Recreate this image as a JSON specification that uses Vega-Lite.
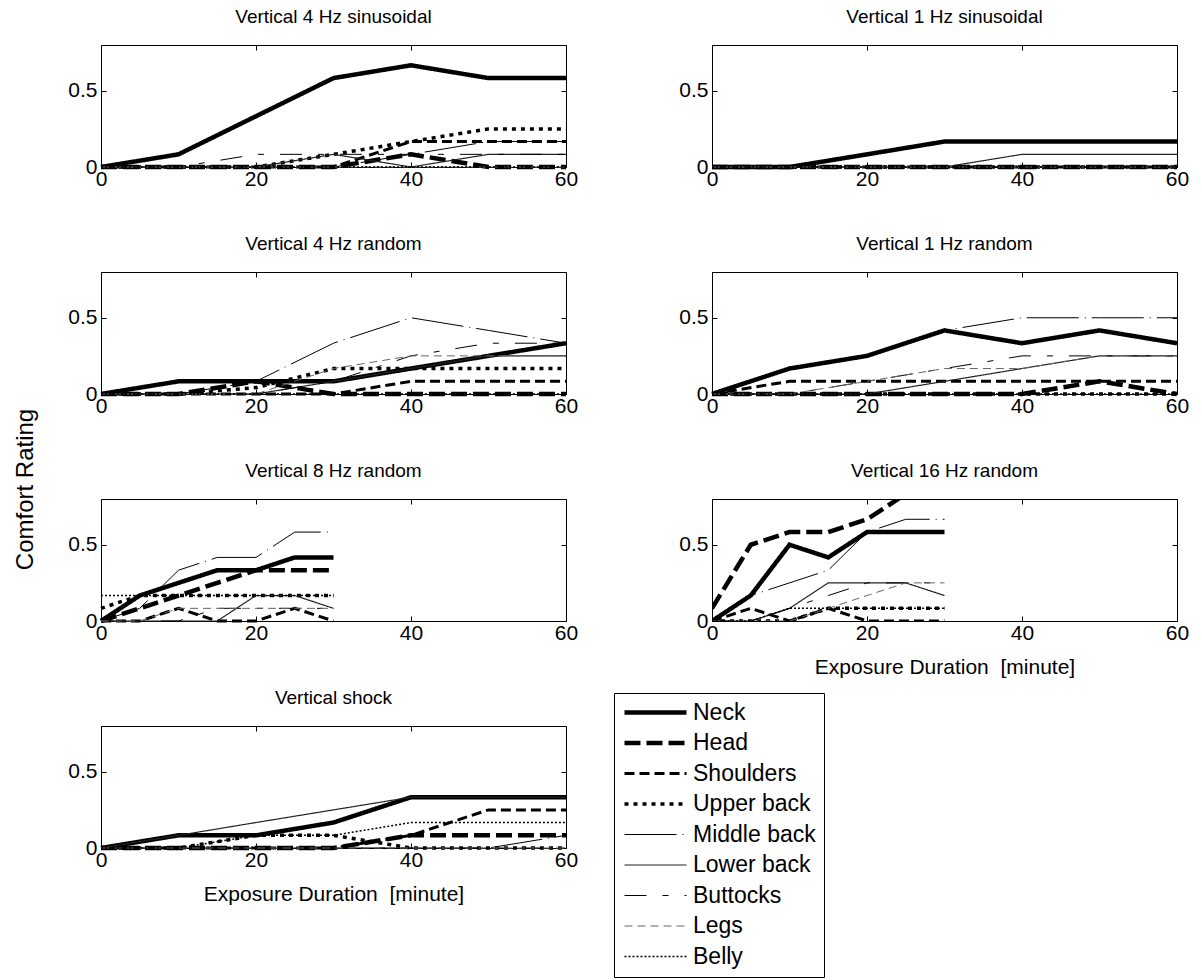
{
"$schema": "https://vega.github.io/schema/vega-lite/v6.json",
"padding": {"left": 12, "top": 7, "right": 5, "bottom": 5},
"bounds": "flush",
"columns": 2,
"spacing": {"row": 105, "column": 146},
"config": {
 "font": "Liberation Sans",
 "view": {"stroke": "black", "strokeWidth": 1},
 "axis": {"domain": false, "grid": false, "ticks": true, "tickSize": -5, "tickColor": "black", "tickWidth": 1, "labelFont": "Liberation Sans", "labelFontSize": 21, "labelColor": "black", "titleFont": "Liberation Sans", "titleFontSize": 21, "titleFontWeight": "normal", "titleColor": "black", "labelFlush": false, "labelOverlap": false},
 "axisX": {"labelPadding": 6},
 "axisY": {"labelPadding": 9},
 "title": {"font": "Liberation Sans", "fontSize": 19, "fontWeight": "normal", "color": "black", "offset": 18},
 "legend": {"labelFont": "Liberation Sans", "labelFontSize": 23, "labelColor": "black"}
},
"resolve": {"scale": {"strokeDash": "independent", "strokeWidth": "independent", "color": "independent"}, "legend": {"strokeDash": "independent", "strokeWidth": "independent", "color": "independent"}},
"data": {"values": [
{"panel":1,"part":"Neck","min":0,"rating":0},{"panel":1,"part":"Neck","min":10,"rating":0.083},{"panel":1,"part":"Neck","min":20,"rating":0.333},{"panel":1,"part":"Neck","min":30,"rating":0.583},{"panel":1,"part":"Neck","min":40,"rating":0.667},{"panel":1,"part":"Neck","min":50,"rating":0.583},{"panel":1,"part":"Neck","min":60,"rating":0.583},
{"panel":1,"part":"Head","min":0,"rating":0},{"panel":1,"part":"Head","min":10,"rating":0},{"panel":1,"part":"Head","min":20,"rating":0},{"panel":1,"part":"Head","min":30,"rating":0},{"panel":1,"part":"Head","min":40,"rating":0.083},{"panel":1,"part":"Head","min":50,"rating":0},{"panel":1,"part":"Head","min":60,"rating":0},
{"panel":1,"part":"Shoulders","min":0,"rating":0},{"panel":1,"part":"Shoulders","min":10,"rating":0},{"panel":1,"part":"Shoulders","min":20,"rating":0},{"panel":1,"part":"Shoulders","min":30,"rating":0},{"panel":1,"part":"Shoulders","min":40,"rating":0.167},{"panel":1,"part":"Shoulders","min":50,"rating":0.167},{"panel":1,"part":"Shoulders","min":60,"rating":0.167},
{"panel":1,"part":"Upper back","min":0,"rating":0},{"panel":1,"part":"Upper back","min":10,"rating":0},{"panel":1,"part":"Upper back","min":20,"rating":0},{"panel":1,"part":"Upper back","min":30,"rating":0.083},{"panel":1,"part":"Upper back","min":40,"rating":0.167},{"panel":1,"part":"Upper back","min":50,"rating":0.25},{"panel":1,"part":"Upper back","min":60,"rating":0.25},
{"panel":1,"part":"Middle back","min":0,"rating":0},{"panel":1,"part":"Middle back","min":10,"rating":0},{"panel":1,"part":"Middle back","min":20,"rating":0},{"panel":1,"part":"Middle back","min":30,"rating":0},{"panel":1,"part":"Middle back","min":40,"rating":0.083},{"panel":1,"part":"Middle back","min":50,"rating":0.167},{"panel":1,"part":"Middle back","min":60,"rating":0.167},
{"panel":1,"part":"Lower back","min":0,"rating":0},{"panel":1,"part":"Lower back","min":10,"rating":0},{"panel":1,"part":"Lower back","min":20,"rating":0},{"panel":1,"part":"Lower back","min":30,"rating":0.083},{"panel":1,"part":"Lower back","min":40,"rating":0},{"panel":1,"part":"Lower back","min":50,"rating":0.083},{"panel":1,"part":"Lower back","min":60,"rating":0.083},
{"panel":1,"part":"Buttocks","min":0,"rating":0},{"panel":1,"part":"Buttocks","min":10,"rating":0},{"panel":1,"part":"Buttocks","min":20,"rating":0.083},{"panel":1,"part":"Buttocks","min":30,"rating":0.083},{"panel":1,"part":"Buttocks","min":40,"rating":0.083},{"panel":1,"part":"Buttocks","min":50,"rating":0.083},{"panel":1,"part":"Buttocks","min":60,"rating":0.083},
{"panel":1,"part":"Legs","min":0,"rating":0},{"panel":1,"part":"Legs","min":10,"rating":0},{"panel":1,"part":"Legs","min":20,"rating":0},{"panel":1,"part":"Legs","min":30,"rating":0},{"panel":1,"part":"Legs","min":40,"rating":0},{"panel":1,"part":"Legs","min":50,"rating":0},{"panel":1,"part":"Legs","min":60,"rating":0},
{"panel":1,"part":"Belly","min":0,"rating":0},{"panel":1,"part":"Belly","min":10,"rating":0},{"panel":1,"part":"Belly","min":20,"rating":0},{"panel":1,"part":"Belly","min":30,"rating":0},{"panel":1,"part":"Belly","min":40,"rating":0},{"panel":1,"part":"Belly","min":50,"rating":0},{"panel":1,"part":"Belly","min":60,"rating":0},

{"panel":2,"part":"Neck","min":0,"rating":0},{"panel":2,"part":"Neck","min":10,"rating":0},{"panel":2,"part":"Neck","min":20,"rating":0.083},{"panel":2,"part":"Neck","min":30,"rating":0.167},{"panel":2,"part":"Neck","min":40,"rating":0.167},{"panel":2,"part":"Neck","min":50,"rating":0.167},{"panel":2,"part":"Neck","min":60,"rating":0.167},
{"panel":2,"part":"Head","min":0,"rating":0},{"panel":2,"part":"Head","min":10,"rating":0},{"panel":2,"part":"Head","min":20,"rating":0},{"panel":2,"part":"Head","min":30,"rating":0},{"panel":2,"part":"Head","min":40,"rating":0},{"panel":2,"part":"Head","min":50,"rating":0},{"panel":2,"part":"Head","min":60,"rating":0},
{"panel":2,"part":"Shoulders","min":0,"rating":0},{"panel":2,"part":"Shoulders","min":10,"rating":0},{"panel":2,"part":"Shoulders","min":20,"rating":0},{"panel":2,"part":"Shoulders","min":30,"rating":0},{"panel":2,"part":"Shoulders","min":40,"rating":0},{"panel":2,"part":"Shoulders","min":50,"rating":0},{"panel":2,"part":"Shoulders","min":60,"rating":0},
{"panel":2,"part":"Upper back","min":0,"rating":0},{"panel":2,"part":"Upper back","min":10,"rating":0},{"panel":2,"part":"Upper back","min":20,"rating":0},{"panel":2,"part":"Upper back","min":30,"rating":0},{"panel":2,"part":"Upper back","min":40,"rating":0},{"panel":2,"part":"Upper back","min":50,"rating":0},{"panel":2,"part":"Upper back","min":60,"rating":0},
{"panel":2,"part":"Middle back","min":0,"rating":0},{"panel":2,"part":"Middle back","min":10,"rating":0},{"panel":2,"part":"Middle back","min":20,"rating":0},{"panel":2,"part":"Middle back","min":30,"rating":0},{"panel":2,"part":"Middle back","min":40,"rating":0},{"panel":2,"part":"Middle back","min":50,"rating":0},{"panel":2,"part":"Middle back","min":60,"rating":0},
{"panel":2,"part":"Lower back","min":0,"rating":0},{"panel":2,"part":"Lower back","min":10,"rating":0},{"panel":2,"part":"Lower back","min":20,"rating":0},{"panel":2,"part":"Lower back","min":30,"rating":0},{"panel":2,"part":"Lower back","min":40,"rating":0.083},{"panel":2,"part":"Lower back","min":50,"rating":0.083},{"panel":2,"part":"Lower back","min":60,"rating":0.083},
{"panel":2,"part":"Buttocks","min":0,"rating":0},{"panel":2,"part":"Buttocks","min":10,"rating":0},{"panel":2,"part":"Buttocks","min":20,"rating":0},{"panel":2,"part":"Buttocks","min":30,"rating":0},{"panel":2,"part":"Buttocks","min":40,"rating":0},{"panel":2,"part":"Buttocks","min":50,"rating":0},{"panel":2,"part":"Buttocks","min":60,"rating":0},
{"panel":2,"part":"Legs","min":0,"rating":0},{"panel":2,"part":"Legs","min":10,"rating":0},{"panel":2,"part":"Legs","min":20,"rating":0},{"panel":2,"part":"Legs","min":30,"rating":0},{"panel":2,"part":"Legs","min":40,"rating":0},{"panel":2,"part":"Legs","min":50,"rating":0},{"panel":2,"part":"Legs","min":60,"rating":0},
{"panel":2,"part":"Belly","min":0,"rating":0},{"panel":2,"part":"Belly","min":10,"rating":0},{"panel":2,"part":"Belly","min":20,"rating":0},{"panel":2,"part":"Belly","min":30,"rating":0},{"panel":2,"part":"Belly","min":40,"rating":0},{"panel":2,"part":"Belly","min":50,"rating":0},{"panel":2,"part":"Belly","min":60,"rating":0},

{"panel":3,"part":"Neck","min":0,"rating":0},{"panel":3,"part":"Neck","min":10,"rating":0.083},{"panel":3,"part":"Neck","min":20,"rating":0.083},{"panel":3,"part":"Neck","min":30,"rating":0.083},{"panel":3,"part":"Neck","min":40,"rating":0.167},{"panel":3,"part":"Neck","min":50,"rating":0.25},{"panel":3,"part":"Neck","min":60,"rating":0.333},
{"panel":3,"part":"Head","min":0,"rating":0},{"panel":3,"part":"Head","min":10,"rating":0},{"panel":3,"part":"Head","min":20,"rating":0.083},{"panel":3,"part":"Head","min":30,"rating":0},{"panel":3,"part":"Head","min":40,"rating":0},{"panel":3,"part":"Head","min":50,"rating":0},{"panel":3,"part":"Head","min":60,"rating":0},
{"panel":3,"part":"Shoulders","min":0,"rating":0},{"panel":3,"part":"Shoulders","min":10,"rating":0},{"panel":3,"part":"Shoulders","min":20,"rating":0},{"panel":3,"part":"Shoulders","min":30,"rating":0},{"panel":3,"part":"Shoulders","min":40,"rating":0.083},{"panel":3,"part":"Shoulders","min":50,"rating":0.083},{"panel":3,"part":"Shoulders","min":60,"rating":0.083},
{"panel":3,"part":"Upper back","min":0,"rating":0},{"panel":3,"part":"Upper back","min":10,"rating":0},{"panel":3,"part":"Upper back","min":20,"rating":0.042},{"panel":3,"part":"Upper back","min":30,"rating":0.167},{"panel":3,"part":"Upper back","min":40,"rating":0.167},{"panel":3,"part":"Upper back","min":50,"rating":0.167},{"panel":3,"part":"Upper back","min":60,"rating":0.167},
{"panel":3,"part":"Middle back","min":0,"rating":0},{"panel":3,"part":"Middle back","min":10,"rating":0},{"panel":3,"part":"Middle back","min":20,"rating":0.083},{"panel":3,"part":"Middle back","min":30,"rating":0.333},{"panel":3,"part":"Middle back","min":40,"rating":0.5},{"panel":3,"part":"Middle back","min":50,"rating":0.417},{"panel":3,"part":"Middle back","min":60,"rating":0.333},
{"panel":3,"part":"Lower back","min":0,"rating":0},{"panel":3,"part":"Lower back","min":10,"rating":0},{"panel":3,"part":"Lower back","min":20,"rating":0},{"panel":3,"part":"Lower back","min":30,"rating":0.083},{"panel":3,"part":"Lower back","min":40,"rating":0.167},{"panel":3,"part":"Lower back","min":50,"rating":0.25},{"panel":3,"part":"Lower back","min":60,"rating":0.25},
{"panel":3,"part":"Buttocks","min":0,"rating":0},{"panel":3,"part":"Buttocks","min":10,"rating":0},{"panel":3,"part":"Buttocks","min":20,"rating":0},{"panel":3,"part":"Buttocks","min":30,"rating":0.083},{"panel":3,"part":"Buttocks","min":40,"rating":0.25},{"panel":3,"part":"Buttocks","min":50,"rating":0.333},{"panel":3,"part":"Buttocks","min":60,"rating":0.333},
{"panel":3,"part":"Legs","min":0,"rating":0},{"panel":3,"part":"Legs","min":10,"rating":0},{"panel":3,"part":"Legs","min":20,"rating":0},{"panel":3,"part":"Legs","min":30,"rating":0.167},{"panel":3,"part":"Legs","min":40,"rating":0.25},{"panel":3,"part":"Legs","min":50,"rating":0.25},{"panel":3,"part":"Legs","min":60,"rating":0.25},
{"panel":3,"part":"Belly","min":0,"rating":0},{"panel":3,"part":"Belly","min":10,"rating":0},{"panel":3,"part":"Belly","min":20,"rating":0},{"panel":3,"part":"Belly","min":30,"rating":0},{"panel":3,"part":"Belly","min":40,"rating":0},{"panel":3,"part":"Belly","min":50,"rating":0},{"panel":3,"part":"Belly","min":60,"rating":0},

{"panel":4,"part":"Neck","min":0,"rating":0},{"panel":4,"part":"Neck","min":10,"rating":0.167},{"panel":4,"part":"Neck","min":20,"rating":0.25},{"panel":4,"part":"Neck","min":30,"rating":0.417},{"panel":4,"part":"Neck","min":40,"rating":0.333},{"panel":4,"part":"Neck","min":50,"rating":0.417},{"panel":4,"part":"Neck","min":60,"rating":0.333},
{"panel":4,"part":"Head","min":0,"rating":0},{"panel":4,"part":"Head","min":10,"rating":0},{"panel":4,"part":"Head","min":20,"rating":0},{"panel":4,"part":"Head","min":30,"rating":0},{"panel":4,"part":"Head","min":40,"rating":0},{"panel":4,"part":"Head","min":50,"rating":0.083},{"panel":4,"part":"Head","min":60,"rating":0},
{"panel":4,"part":"Shoulders","min":0,"rating":0},{"panel":4,"part":"Shoulders","min":10,"rating":0.083},{"panel":4,"part":"Shoulders","min":20,"rating":0.083},{"panel":4,"part":"Shoulders","min":30,"rating":0.083},{"panel":4,"part":"Shoulders","min":40,"rating":0.083},{"panel":4,"part":"Shoulders","min":50,"rating":0.083},{"panel":4,"part":"Shoulders","min":60,"rating":0.083},
{"panel":4,"part":"Upper back","min":0,"rating":0},{"panel":4,"part":"Upper back","min":10,"rating":0},{"panel":4,"part":"Upper back","min":20,"rating":0},{"panel":4,"part":"Upper back","min":30,"rating":0},{"panel":4,"part":"Upper back","min":40,"rating":0},{"panel":4,"part":"Upper back","min":50,"rating":0},{"panel":4,"part":"Upper back","min":60,"rating":0},
{"panel":4,"part":"Middle back","min":0,"rating":0},{"panel":4,"part":"Middle back","min":10,"rating":0.167},{"panel":4,"part":"Middle back","min":20,"rating":0.25},{"panel":4,"part":"Middle back","min":30,"rating":0.417},{"panel":4,"part":"Middle back","min":40,"rating":0.5},{"panel":4,"part":"Middle back","min":50,"rating":0.5},{"panel":4,"part":"Middle back","min":60,"rating":0.5},
{"panel":4,"part":"Lower back","min":0,"rating":0},{"panel":4,"part":"Lower back","min":10,"rating":0},{"panel":4,"part":"Lower back","min":20,"rating":0},{"panel":4,"part":"Lower back","min":30,"rating":0.083},{"panel":4,"part":"Lower back","min":40,"rating":0.167},{"panel":4,"part":"Lower back","min":50,"rating":0.25},{"panel":4,"part":"Lower back","min":60,"rating":0.25},
{"panel":4,"part":"Buttocks","min":0,"rating":0},{"panel":4,"part":"Buttocks","min":10,"rating":0},{"panel":4,"part":"Buttocks","min":20,"rating":0.083},{"panel":4,"part":"Buttocks","min":30,"rating":0.167},{"panel":4,"part":"Buttocks","min":40,"rating":0.25},{"panel":4,"part":"Buttocks","min":50,"rating":0.25},{"panel":4,"part":"Buttocks","min":60,"rating":0.25},
{"panel":4,"part":"Legs","min":0,"rating":0},{"panel":4,"part":"Legs","min":10,"rating":0},{"panel":4,"part":"Legs","min":20,"rating":0.083},{"panel":4,"part":"Legs","min":30,"rating":0.167},{"panel":4,"part":"Legs","min":40,"rating":0.167},{"panel":4,"part":"Legs","min":50,"rating":0.25},{"panel":4,"part":"Legs","min":60,"rating":0.25},
{"panel":4,"part":"Belly","min":0,"rating":0},{"panel":4,"part":"Belly","min":10,"rating":0},{"panel":4,"part":"Belly","min":20,"rating":0},{"panel":4,"part":"Belly","min":30,"rating":0},{"panel":4,"part":"Belly","min":40,"rating":0},{"panel":4,"part":"Belly","min":50,"rating":0},{"panel":4,"part":"Belly","min":60,"rating":0},

{"panel":5,"part":"Neck","min":0,"rating":0},{"panel":5,"part":"Neck","min":5,"rating":0.167},{"panel":5,"part":"Neck","min":10,"rating":0.25},{"panel":5,"part":"Neck","min":15,"rating":0.333},{"panel":5,"part":"Neck","min":20,"rating":0.333},{"panel":5,"part":"Neck","min":25,"rating":0.417},{"panel":5,"part":"Neck","min":30,"rating":0.417},
{"panel":5,"part":"Head","min":0,"rating":0},{"panel":5,"part":"Head","min":5,"rating":0.083},{"panel":5,"part":"Head","min":10,"rating":0.167},{"panel":5,"part":"Head","min":15,"rating":0.25},{"panel":5,"part":"Head","min":20,"rating":0.333},{"panel":5,"part":"Head","min":25,"rating":0.333},{"panel":5,"part":"Head","min":30,"rating":0.333},
{"panel":5,"part":"Shoulders","min":0,"rating":0},{"panel":5,"part":"Shoulders","min":5,"rating":0},{"panel":5,"part":"Shoulders","min":10,"rating":0.083},{"panel":5,"part":"Shoulders","min":15,"rating":0},{"panel":5,"part":"Shoulders","min":20,"rating":0},{"panel":5,"part":"Shoulders","min":25,"rating":0.083},{"panel":5,"part":"Shoulders","min":30,"rating":0},
{"panel":5,"part":"Upper back","min":0,"rating":0.083},{"panel":5,"part":"Upper back","min":5,"rating":0.167},{"panel":5,"part":"Upper back","min":10,"rating":0.167},{"panel":5,"part":"Upper back","min":15,"rating":0.167},{"panel":5,"part":"Upper back","min":20,"rating":0.167},{"panel":5,"part":"Upper back","min":25,"rating":0.167},{"panel":5,"part":"Upper back","min":30,"rating":0.167},
{"panel":5,"part":"Middle back","min":0,"rating":0},{"panel":5,"part":"Middle back","min":5,"rating":0.083},{"panel":5,"part":"Middle back","min":10,"rating":0.333},{"panel":5,"part":"Middle back","min":15,"rating":0.417},{"panel":5,"part":"Middle back","min":20,"rating":0.417},{"panel":5,"part":"Middle back","min":25,"rating":0.583},{"panel":5,"part":"Middle back","min":30,"rating":0.583},
{"panel":5,"part":"Lower back","min":0,"rating":0},{"panel":5,"part":"Lower back","min":5,"rating":0},{"panel":5,"part":"Lower back","min":10,"rating":0},{"panel":5,"part":"Lower back","min":15,"rating":0},{"panel":5,"part":"Lower back","min":20,"rating":0.167},{"panel":5,"part":"Lower back","min":25,"rating":0.167},{"panel":5,"part":"Lower back","min":30,"rating":0.083},
{"panel":5,"part":"Buttocks","min":0,"rating":0},{"panel":5,"part":"Buttocks","min":5,"rating":0},{"panel":5,"part":"Buttocks","min":10,"rating":0},{"panel":5,"part":"Buttocks","min":15,"rating":0.083},{"panel":5,"part":"Buttocks","min":20,"rating":0.083},{"panel":5,"part":"Buttocks","min":25,"rating":0.083},{"panel":5,"part":"Buttocks","min":30,"rating":0.083},
{"panel":5,"part":"Legs","min":0,"rating":0},{"panel":5,"part":"Legs","min":5,"rating":0},{"panel":5,"part":"Legs","min":10,"rating":0.083},{"panel":5,"part":"Legs","min":15,"rating":0.083},{"panel":5,"part":"Legs","min":20,"rating":0.083},{"panel":5,"part":"Legs","min":25,"rating":0.083},{"panel":5,"part":"Legs","min":30,"rating":0.083},
{"panel":5,"part":"Belly","min":0,"rating":0.167},{"panel":5,"part":"Belly","min":5,"rating":0.167},{"panel":5,"part":"Belly","min":10,"rating":0.167},{"panel":5,"part":"Belly","min":15,"rating":0.167},{"panel":5,"part":"Belly","min":20,"rating":0.167},{"panel":5,"part":"Belly","min":25,"rating":0.167},{"panel":5,"part":"Belly","min":30,"rating":0.167},

{"panel":6,"part":"Neck","min":0,"rating":0},{"panel":6,"part":"Neck","min":5,"rating":0.167},{"panel":6,"part":"Neck","min":10,"rating":0.5},{"panel":6,"part":"Neck","min":15,"rating":0.417},{"panel":6,"part":"Neck","min":20,"rating":0.583},{"panel":6,"part":"Neck","min":25,"rating":0.583},{"panel":6,"part":"Neck","min":30,"rating":0.583},
{"panel":6,"part":"Head","min":0,"rating":0.083},{"panel":6,"part":"Head","min":5,"rating":0.5},{"panel":6,"part":"Head","min":10,"rating":0.583},{"panel":6,"part":"Head","min":15,"rating":0.583},{"panel":6,"part":"Head","min":20,"rating":0.667},{"panel":6,"part":"Head","min":25,"rating":0.833},{"panel":6,"part":"Head","min":30,"rating":0.833},
{"panel":6,"part":"Shoulders","min":0,"rating":0},{"panel":6,"part":"Shoulders","min":5,"rating":0.083},{"panel":6,"part":"Shoulders","min":10,"rating":0},{"panel":6,"part":"Shoulders","min":15,"rating":0.083},{"panel":6,"part":"Shoulders","min":20,"rating":0},{"panel":6,"part":"Shoulders","min":25,"rating":0},{"panel":6,"part":"Shoulders","min":30,"rating":0},
{"panel":6,"part":"Upper back","min":0,"rating":0},{"panel":6,"part":"Upper back","min":5,"rating":0},{"panel":6,"part":"Upper back","min":10,"rating":0},{"panel":6,"part":"Upper back","min":15,"rating":0.083},{"panel":6,"part":"Upper back","min":20,"rating":0.083},{"panel":6,"part":"Upper back","min":25,"rating":0.083},{"panel":6,"part":"Upper back","min":30,"rating":0.083},
{"panel":6,"part":"Middle back","min":0,"rating":0},{"panel":6,"part":"Middle back","min":5,"rating":0.167},{"panel":6,"part":"Middle back","min":10,"rating":0.25},{"panel":6,"part":"Middle back","min":15,"rating":0.333},{"panel":6,"part":"Middle back","min":20,"rating":0.583},{"panel":6,"part":"Middle back","min":25,"rating":0.667},{"panel":6,"part":"Middle back","min":30,"rating":0.667},
{"panel":6,"part":"Lower back","min":0,"rating":0},{"panel":6,"part":"Lower back","min":5,"rating":0},{"panel":6,"part":"Lower back","min":10,"rating":0.083},{"panel":6,"part":"Lower back","min":15,"rating":0.25},{"panel":6,"part":"Lower back","min":20,"rating":0.25},{"panel":6,"part":"Lower back","min":25,"rating":0.25},{"panel":6,"part":"Lower back","min":30,"rating":0.167},
{"panel":6,"part":"Buttocks","min":0,"rating":0},{"panel":6,"part":"Buttocks","min":5,"rating":0},{"panel":6,"part":"Buttocks","min":10,"rating":0.083},{"panel":6,"part":"Buttocks","min":15,"rating":0.167},{"panel":6,"part":"Buttocks","min":20,"rating":0.25},{"panel":6,"part":"Buttocks","min":25,"rating":0.25},{"panel":6,"part":"Buttocks","min":30,"rating":0.25},
{"panel":6,"part":"Legs","min":0,"rating":0},{"panel":6,"part":"Legs","min":5,"rating":0},{"panel":6,"part":"Legs","min":10,"rating":0},{"panel":6,"part":"Legs","min":15,"rating":0.083},{"panel":6,"part":"Legs","min":20,"rating":0.167},{"panel":6,"part":"Legs","min":25,"rating":0.25},{"panel":6,"part":"Legs","min":30,"rating":0.25},
{"panel":6,"part":"Belly","min":0,"rating":0},{"panel":6,"part":"Belly","min":5,"rating":0},{"panel":6,"part":"Belly","min":10,"rating":0.083},{"panel":6,"part":"Belly","min":15,"rating":0.083},{"panel":6,"part":"Belly","min":20,"rating":0.083},{"panel":6,"part":"Belly","min":25,"rating":0.083},{"panel":6,"part":"Belly","min":30,"rating":0.083},

{"panel":7,"part":"Neck","min":0,"rating":0},{"panel":7,"part":"Neck","min":10,"rating":0.083},{"panel":7,"part":"Neck","min":20,"rating":0.083},{"panel":7,"part":"Neck","min":30,"rating":0.167},{"panel":7,"part":"Neck","min":40,"rating":0.333},{"panel":7,"part":"Neck","min":50,"rating":0.333},{"panel":7,"part":"Neck","min":60,"rating":0.333},
{"panel":7,"part":"Head","min":0,"rating":0},{"panel":7,"part":"Head","min":10,"rating":0},{"panel":7,"part":"Head","min":20,"rating":0},{"panel":7,"part":"Head","min":30,"rating":0},{"panel":7,"part":"Head","min":40,"rating":0.083},{"panel":7,"part":"Head","min":50,"rating":0.083},{"panel":7,"part":"Head","min":60,"rating":0.083},
{"panel":7,"part":"Shoulders","min":0,"rating":0},{"panel":7,"part":"Shoulders","min":10,"rating":0},{"panel":7,"part":"Shoulders","min":20,"rating":0},{"panel":7,"part":"Shoulders","min":30,"rating":0},{"panel":7,"part":"Shoulders","min":40,"rating":0.083},{"panel":7,"part":"Shoulders","min":50,"rating":0.25},{"panel":7,"part":"Shoulders","min":60,"rating":0.25},
{"panel":7,"part":"Upper back","min":0,"rating":0},{"panel":7,"part":"Upper back","min":10,"rating":0},{"panel":7,"part":"Upper back","min":20,"rating":0.083},{"panel":7,"part":"Upper back","min":30,"rating":0.083},{"panel":7,"part":"Upper back","min":40,"rating":0},{"panel":7,"part":"Upper back","min":50,"rating":0},{"panel":7,"part":"Upper back","min":60,"rating":0},
{"panel":7,"part":"Middle back","min":0,"rating":0},{"panel":7,"part":"Middle back","min":10,"rating":0},{"panel":7,"part":"Middle back","min":20,"rating":0},{"panel":7,"part":"Middle back","min":30,"rating":0},{"panel":7,"part":"Middle back","min":40,"rating":0},{"panel":7,"part":"Middle back","min":50,"rating":0},{"panel":7,"part":"Middle back","min":60,"rating":0.083},
{"panel":7,"part":"Lower back","min":0,"rating":0},{"panel":7,"part":"Lower back","min":10,"rating":0.083},{"panel":7,"part":"Lower back","min":20,"rating":0.167},{"panel":7,"part":"Lower back","min":30,"rating":0.25},{"panel":7,"part":"Lower back","min":40,"rating":0.333},{"panel":7,"part":"Lower back","min":50,"rating":0.333},{"panel":7,"part":"Lower back","min":60,"rating":0.333},
{"panel":7,"part":"Buttocks","min":0,"rating":0},{"panel":7,"part":"Buttocks","min":10,"rating":0},{"panel":7,"part":"Buttocks","min":20,"rating":0},{"panel":7,"part":"Buttocks","min":30,"rating":0},{"panel":7,"part":"Buttocks","min":40,"rating":0},{"panel":7,"part":"Buttocks","min":50,"rating":0},{"panel":7,"part":"Buttocks","min":60,"rating":0},
{"panel":7,"part":"Legs","min":0,"rating":0},{"panel":7,"part":"Legs","min":10,"rating":0},{"panel":7,"part":"Legs","min":20,"rating":0},{"panel":7,"part":"Legs","min":30,"rating":0},{"panel":7,"part":"Legs","min":40,"rating":0},{"panel":7,"part":"Legs","min":50,"rating":0},{"panel":7,"part":"Legs","min":60,"rating":0},
{"panel":7,"part":"Belly","min":0,"rating":0},{"panel":7,"part":"Belly","min":10,"rating":0},{"panel":7,"part":"Belly","min":20,"rating":0.083},{"panel":7,"part":"Belly","min":30,"rating":0.083},{"panel":7,"part":"Belly","min":40,"rating":0.167},{"panel":7,"part":"Belly","min":50,"rating":0.167},{"panel":7,"part":"Belly","min":60,"rating":0.167}
]},
"concat": [
{"title": "Vertical 4 Hz sinusoidal", "width": 465, "height": 122,
 "transform": [{"filter": "datum.panel == 1"}],
 "layer": [
  {"mark": {"type": "line"},
   "encoding": {
    "x": {"field": "min", "type": "quantitative", "scale": {"domain": [0, 60], "nice": false}, "axis": {"values": [0, 20, 40, 60], "title": null}},
    "y": {"field": "rating", "type": "quantitative", "scale": {"domain": [0, 0.8], "nice": false}, "axis": {"values": [0, 0.5], "format": ".1~f", "title": null}},
    "strokeDash": {"field": "part", "type": "nominal", "scale": {"domain": ["Neck","Head","Shoulders","Upper back","Middle back","Lower back","Buttocks","Legs","Belly"], "range": [[1,0],[16,6],[10,5],[4,5],[52,6,1,6],[1,0],[22,16,6,16],[8,5],[2,2]]}, "legend": null},
    "strokeWidth": {"field": "part", "type": "nominal", "scale": {"type": "ordinal", "domain": ["Neck","Head","Shoulders","Upper back","Middle back","Lower back","Buttocks","Legs","Belly"], "range": [4.5,4.5,3,3.5,1,1.2,1,1,1.5]}, "legend": null},
    "color": {"field": "part", "type": "nominal", "scale": {"domain": ["Neck","Head","Shoulders","Upper back","Middle back","Lower back","Buttocks","Legs","Belly"], "range": ["black","black","black","black","black","#222","black","#666","black"]}, "legend": null}
   }},
  {"mark": {"type": "point", "opacity": 0},
   "encoding": {
    "x": {"field": "min", "type": "quantitative", "scale": {"domain": [0, 60], "nice": false}, "axis": {"orient": "top", "values": [0, 20, 40, 60], "labels": false, "title": null}},
    "y": {"field": "rating", "type": "quantitative", "scale": {"domain": [0, 0.8], "nice": false}, "axis": {"orient": "right", "values": [0, 0.5], "labels": false, "title": null}}
   }}
 ],
 "resolve": {"axis": {"x": "independent", "y": "independent"}}
},
{"title": "Vertical 1 Hz sinusoidal", "width": 465, "height": 122,
 "transform": [{"filter": "datum.panel == 2"}],
 "layer": [
  {"mark": {"type": "line"},
   "encoding": {
    "x": {"field": "min", "type": "quantitative", "scale": {"domain": [0, 60], "nice": false}, "axis": {"values": [0, 20, 40, 60], "title": null}},
    "y": {"field": "rating", "type": "quantitative", "scale": {"domain": [0, 0.8], "nice": false}, "axis": {"values": [0, 0.5], "format": ".1~f", "title": null}},
    "strokeDash": {"field": "part", "type": "nominal", "scale": {"domain": ["Neck","Head","Shoulders","Upper back","Middle back","Lower back","Buttocks","Legs","Belly"], "range": [[1,0],[16,6],[10,5],[4,5],[52,6,1,6],[1,0],[22,16,6,16],[8,5],[2,2]]}, "legend": null},
    "strokeWidth": {"field": "part", "type": "nominal", "scale": {"type": "ordinal", "domain": ["Neck","Head","Shoulders","Upper back","Middle back","Lower back","Buttocks","Legs","Belly"], "range": [4.5,4.5,3,3.5,1,1.2,1,1,1.5]}, "legend": null},
    "color": {"field": "part", "type": "nominal", "scale": {"domain": ["Neck","Head","Shoulders","Upper back","Middle back","Lower back","Buttocks","Legs","Belly"], "range": ["black","black","black","black","black","#222","black","#666","black"]}, "legend": null}
   }},
  {"mark": {"type": "point", "opacity": 0},
   "encoding": {
    "x": {"field": "min", "type": "quantitative", "scale": {"domain": [0, 60], "nice": false}, "axis": {"orient": "top", "values": [0, 20, 40, 60], "labels": false, "title": null}},
    "y": {"field": "rating", "type": "quantitative", "scale": {"domain": [0, 0.8], "nice": false}, "axis": {"orient": "right", "values": [0, 0.5], "labels": false, "title": null}}
   }}
 ],
 "resolve": {"axis": {"x": "independent", "y": "independent"}}
},
{"title": "Vertical 4 Hz random", "width": 465, "height": 122,
 "transform": [{"filter": "datum.panel == 3"}],
 "layer": [
  {"mark": {"type": "line"},
   "encoding": {
    "x": {"field": "min", "type": "quantitative", "scale": {"domain": [0, 60], "nice": false}, "axis": {"values": [0, 20, 40, 60], "title": null}},
    "y": {"field": "rating", "type": "quantitative", "scale": {"domain": [0, 0.8], "nice": false}, "axis": {"values": [0, 0.5], "format": ".1~f", "title": "Comfort Rating", "titleY": 217, "titleX": -64, "titleFontSize": 24}},
    "strokeDash": {"field": "part", "type": "nominal", "scale": {"domain": ["Neck","Head","Shoulders","Upper back","Middle back","Lower back","Buttocks","Legs","Belly"], "range": [[1,0],[16,6],[10,5],[4,5],[52,6,1,6],[1,0],[22,16,6,16],[8,5],[2,2]]}, "legend": null},
    "strokeWidth": {"field": "part", "type": "nominal", "scale": {"type": "ordinal", "domain": ["Neck","Head","Shoulders","Upper back","Middle back","Lower back","Buttocks","Legs","Belly"], "range": [4.5,4.5,3,3.5,1,1.2,1,1,1.5]}, "legend": null},
    "color": {"field": "part", "type": "nominal", "scale": {"domain": ["Neck","Head","Shoulders","Upper back","Middle back","Lower back","Buttocks","Legs","Belly"], "range": ["black","black","black","black","black","#222","black","#666","black"]}, "legend": null}
   }},
  {"mark": {"type": "point", "opacity": 0},
   "encoding": {
    "x": {"field": "min", "type": "quantitative", "scale": {"domain": [0, 60], "nice": false}, "axis": {"orient": "top", "values": [0, 20, 40, 60], "labels": false, "title": null}},
    "y": {"field": "rating", "type": "quantitative", "scale": {"domain": [0, 0.8], "nice": false}, "axis": {"orient": "right", "values": [0, 0.5], "labels": false, "title": null}}
   }}
 ],
 "resolve": {"axis": {"x": "independent", "y": "independent"}}
},
{"title": "Vertical 1 Hz random", "width": 465, "height": 122,
 "transform": [{"filter": "datum.panel == 4"}],
 "layer": [
  {"mark": {"type": "line"},
   "encoding": {
    "x": {"field": "min", "type": "quantitative", "scale": {"domain": [0, 60], "nice": false}, "axis": {"values": [0, 20, 40, 60], "title": null}},
    "y": {"field": "rating", "type": "quantitative", "scale": {"domain": [0, 0.8], "nice": false}, "axis": {"values": [0, 0.5], "format": ".1~f", "title": null}},
    "strokeDash": {"field": "part", "type": "nominal", "scale": {"domain": ["Neck","Head","Shoulders","Upper back","Middle back","Lower back","Buttocks","Legs","Belly"], "range": [[1,0],[16,6],[10,5],[4,5],[52,6,1,6],[1,0],[22,16,6,16],[8,5],[2,2]]}, "legend": null},
    "strokeWidth": {"field": "part", "type": "nominal", "scale": {"type": "ordinal", "domain": ["Neck","Head","Shoulders","Upper back","Middle back","Lower back","Buttocks","Legs","Belly"], "range": [4.5,4.5,3,3.5,1,1.2,1,1,1.5]}, "legend": null},
    "color": {"field": "part", "type": "nominal", "scale": {"domain": ["Neck","Head","Shoulders","Upper back","Middle back","Lower back","Buttocks","Legs","Belly"], "range": ["black","black","black","black","black","#222","black","#666","black"]}, "legend": null}
   }},
  {"mark": {"type": "point", "opacity": 0},
   "encoding": {
    "x": {"field": "min", "type": "quantitative", "scale": {"domain": [0, 60], "nice": false}, "axis": {"orient": "top", "values": [0, 20, 40, 60], "labels": false, "title": null}},
    "y": {"field": "rating", "type": "quantitative", "scale": {"domain": [0, 0.8], "nice": false}, "axis": {"orient": "right", "values": [0, 0.5], "labels": false, "title": null}}
   }}
 ],
 "resolve": {"axis": {"x": "independent", "y": "independent"}}
},
{"title": "Vertical 8 Hz random", "width": 465, "height": 122,
 "transform": [{"filter": "datum.panel == 5"}],
 "layer": [
  {"mark": {"type": "line"},
   "encoding": {
    "x": {"field": "min", "type": "quantitative", "scale": {"domain": [0, 60], "nice": false}, "axis": {"values": [0, 20, 40, 60], "title": null}},
    "y": {"field": "rating", "type": "quantitative", "scale": {"domain": [0, 0.8], "nice": false}, "axis": {"values": [0, 0.5], "format": ".1~f", "title": null}},
    "strokeDash": {"field": "part", "type": "nominal", "scale": {"domain": ["Neck","Head","Shoulders","Upper back","Middle back","Lower back","Buttocks","Legs","Belly"], "range": [[1,0],[16,6],[10,5],[4,5],[52,6,1,6],[1,0],[22,16,6,16],[8,5],[2,2]]}, "legend": null},
    "strokeWidth": {"field": "part", "type": "nominal", "scale": {"type": "ordinal", "domain": ["Neck","Head","Shoulders","Upper back","Middle back","Lower back","Buttocks","Legs","Belly"], "range": [4.5,4.5,3,3.5,1,1.2,1,1,1.5]}, "legend": null},
    "color": {"field": "part", "type": "nominal", "scale": {"domain": ["Neck","Head","Shoulders","Upper back","Middle back","Lower back","Buttocks","Legs","Belly"], "range": ["black","black","black","black","black","#222","black","#666","black"]}, "legend": null}
   }},
  {"mark": {"type": "point", "opacity": 0},
   "encoding": {
    "x": {"field": "min", "type": "quantitative", "scale": {"domain": [0, 60], "nice": false}, "axis": {"orient": "top", "values": [0, 20, 40, 60], "labels": false, "title": null}},
    "y": {"field": "rating", "type": "quantitative", "scale": {"domain": [0, 0.8], "nice": false}, "axis": {"orient": "right", "values": [0, 0.5], "labels": false, "title": null}}
   }}
 ],
 "resolve": {"axis": {"x": "independent", "y": "independent"}}
},
{"title": {"text": "Vertical 16 Hz random", "offset": 10}, "width": 465, "height": 122,
 "transform": [{"filter": "datum.panel == 6"}],
 "layer": [
  {"mark": {"type": "line", "clip": true},
   "encoding": {
    "x": {"field": "min", "type": "quantitative", "scale": {"domain": [0, 60], "nice": false}, "axis": {"values": [0, 20, 40, 60], "title": "Exposure Duration\u00a0 [minute]", "titlePadding": 13}},
    "y": {"field": "rating", "type": "quantitative", "scale": {"domain": [0, 0.8], "nice": false}, "axis": {"values": [0, 0.5], "format": ".1~f", "title": null}},
    "strokeDash": {"field": "part", "type": "nominal", "scale": {"domain": ["Neck","Head","Shoulders","Upper back","Middle back","Lower back","Buttocks","Legs","Belly"], "range": [[1,0],[16,6],[10,5],[4,5],[52,6,1,6],[1,0],[22,16,6,16],[8,5],[2,2]]},
      "legend": {"orient": "none", "legendX": -98, "legendY": 194, "title": null, "symbolType": "stroke", "symbolSize": 3844, "clipHeight": 23, "rowPadding": 6.5, "labelOffset": 4, "padding": 8, "strokeColor": "black", "fillColor": "white", "cornerRadius": 0, "labelFontSize": 23, "labelFont": "Liberation Sans"}},
    "strokeWidth": {"field": "part", "type": "nominal", "scale": {"type": "ordinal", "domain": ["Neck","Head","Shoulders","Upper back","Middle back","Lower back","Buttocks","Legs","Belly"], "range": [4.5,4.5,3,3.5,1,1.2,1,1,1.5]}},
    "color": {"field": "part", "type": "nominal", "scale": {"domain": ["Neck","Head","Shoulders","Upper back","Middle back","Lower back","Buttocks","Legs","Belly"], "range": ["black","black","black","black","black","#222","black","#666","black"]}}
   }},
  {"mark": {"type": "point", "opacity": 0},
   "encoding": {
    "x": {"field": "min", "type": "quantitative", "scale": {"domain": [0, 60], "nice": false}, "axis": {"orient": "top", "values": [0, 20, 40, 60], "labels": false, "title": null}},
    "y": {"field": "rating", "type": "quantitative", "scale": {"domain": [0, 0.8], "nice": false}, "axis": {"orient": "right", "values": [0, 0.5], "labels": false, "title": null}}
   }}
 ],
 "resolve": {"axis": {"x": "independent", "y": "independent"}}
},
{"title": "Vertical shock", "width": 465, "height": 122,
 "transform": [{"filter": "datum.panel == 7"}],
 "layer": [
  {"mark": {"type": "line"},
   "encoding": {
    "x": {"field": "min", "type": "quantitative", "scale": {"domain": [0, 60], "nice": false}, "axis": {"values": [0, 20, 40, 60], "title": "Exposure Duration\u00a0 [minute]", "titlePadding": 13}},
    "y": {"field": "rating", "type": "quantitative", "scale": {"domain": [0, 0.8], "nice": false}, "axis": {"values": [0, 0.5], "format": ".1~f", "title": null}},
    "strokeDash": {"field": "part", "type": "nominal", "scale": {"domain": ["Neck","Head","Shoulders","Upper back","Middle back","Lower back","Buttocks","Legs","Belly"], "range": [[1,0],[16,6],[10,5],[4,5],[52,6,1,6],[1,0],[22,16,6,16],[8,5],[2,2]]}, "legend": null},
    "strokeWidth": {"field": "part", "type": "nominal", "scale": {"type": "ordinal", "domain": ["Neck","Head","Shoulders","Upper back","Middle back","Lower back","Buttocks","Legs","Belly"], "range": [4.5,4.5,3,3.5,1,1.2,1,1,1.5]}, "legend": null},
    "color": {"field": "part", "type": "nominal", "scale": {"domain": ["Neck","Head","Shoulders","Upper back","Middle back","Lower back","Buttocks","Legs","Belly"], "range": ["black","black","black","black","black","#222","black","#666","black"]}, "legend": null}
   }},
  {"mark": {"type": "point", "opacity": 0},
   "encoding": {
    "x": {"field": "min", "type": "quantitative", "scale": {"domain": [0, 60], "nice": false}, "axis": {"orient": "top", "values": [0, 20, 40, 60], "labels": false, "title": null}},
    "y": {"field": "rating", "type": "quantitative", "scale": {"domain": [0, 0.8], "nice": false}, "axis": {"orient": "right", "values": [0, 0.5], "labels": false, "title": null}}
   }}
 ],
 "resolve": {"axis": {"x": "independent", "y": "independent"}}
}
]
}
